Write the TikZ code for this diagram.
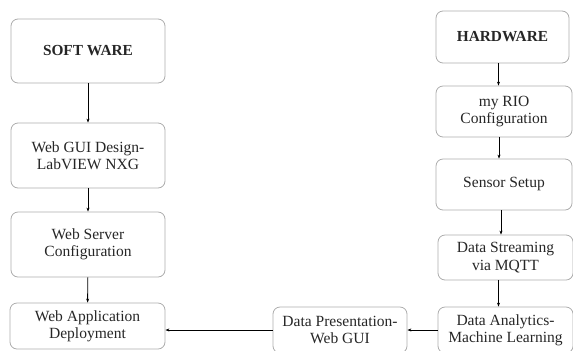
\documentclass[tikz,border=0pt]{standalone}
\usepackage{fontspec}
\setmainfont{Liberation Serif}
\usetikzlibrary{arrows.meta}

\tikzset{
    blk/.style={draw=gray!65, line width=0.8bp, rounded corners=7bp, align=center,
        inner sep=0pt, text=black!85, font=\fontsize{15.6}{17.5}\selectfont},
    head/.style={blk, font=\fontsize{15.4}{17.5}\selectfont\bfseries},
    arr/.style={-{Stealth[length=4bp,width=3bp]}, line width=0.9bp, black},
}

\begin{document}
\begin{tikzpicture}[x=1bp, y=-1bp]
    \useasboundingbox (0,0) rectangle (573,350);
    %
    % software side
    \node[head, minimum width=154bp, minimum height=64bp] (sw)  at (88,51)    {SOFT WARE};
    \node[blk,  minimum width=154bp, minimum height=65bp] (gui) at (88,155.5) {Web GUI Design-\\LabVIEW NXG};
    \node[blk,  minimum width=154bp, minimum height=65bp] (srv) at (88,244.5) {Web Server\\Configuration};
    \node[blk,  minimum width=155bp, minimum height=46bp] (app) at (87.5,326) {Web Application\\Deployment};
    %
    % hardware side
    \node[head, minimum width=133bp, minimum height=52bp] (hw)  at (502.5,37)  {HARDWARE};
    \node[blk,  minimum width=136bp, minimum height=51bp] (rio) at (504,111.5) {my RIO\\Configuration};
    \node[blk,  minimum width=136bp, minimum height=51bp] (sen) at (504,184.5) {Sensor Setup};
    \node[blk,  minimum width=135bp, minimum height=45bp] (str) at (505.5,257.5) {Data Streaming\\via MQTT};
    \node[blk,  minimum width=135bp, minimum height=46bp] (ana) at (505.5,330)   {Data Analytics-\\Machine Learning};
    \node[blk,  minimum width=134bp, minimum height=46bp] (pre) at (340,330)     {Data Presentation-\\Web GUI};
    %
    \draw[arr] (sw) -- (gui);
    \draw[arr] (gui) -- (srv);
    \draw[arr] (srv) -- (app);
    \draw[arr] ([xshift=-4bp]hw.south) -- ([xshift=-4bp]hw.south |- rio.north);
    \draw[arr] ([xshift=-5bp]rio.south) -- ([xshift=-5bp]rio.south |- sen.north);
    \draw[arr] ([xshift=-3bp]sen.south) -- ([xshift=-3bp]sen.south |- str.north);
    \draw[arr] ([xshift=-7bp]str.south) -- ([xshift=-7bp]str.south |- ana.north);
    \draw[arr] (ana.west) -- (pre.east);
    \draw[arr] (pre.west) -- (pre.west -| app.east);
\end{tikzpicture}
\end{document}
